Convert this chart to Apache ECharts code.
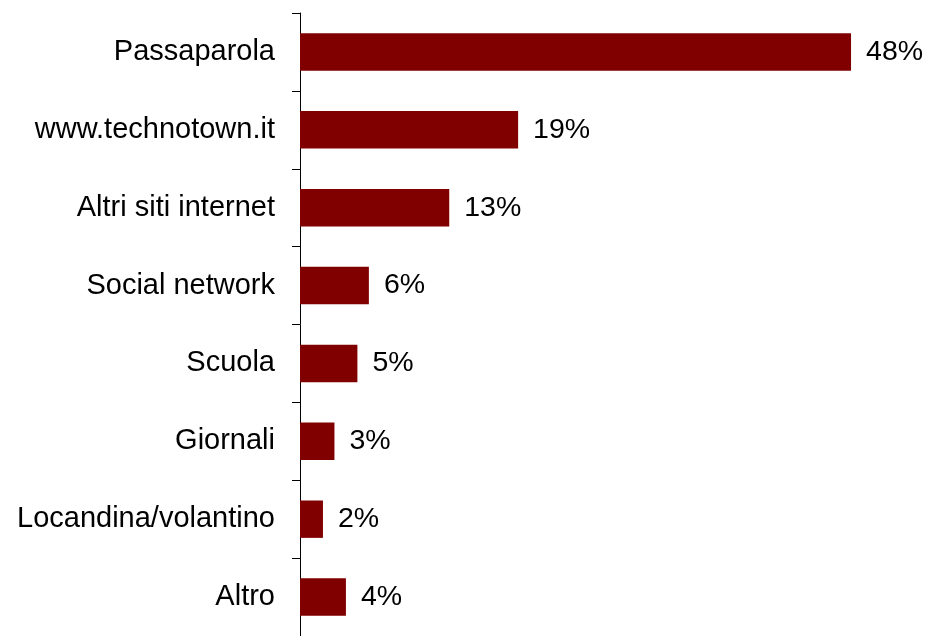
<!DOCTYPE html>
<html>
<head>
<meta charset="utf-8">
<script src="https://cdn.jsdelivr.net/npm/echarts@6/dist/echarts.min.js"></script>
<style>
html,body{margin:0;padding:0;background:#fff;}
#chart{width:926px;height:636px;}
</style>
</head>
<body>
<div id="chart"></div>
<script>
// Sources, top to bottom as shown
const categories = ['Passaparola', 'www.technotown.it', 'Altri siti internet', 'Social network', 'Scuola', 'Giornali', 'Locandina/volantino', 'Altro'];
const shares = [48, 19, 13, 6, 5, 3, 2, 4];

const chart = echarts.init(document.getElementById('chart'), null, { renderer: 'canvas' });
const font = 'Arial, "Liberation Sans", sans-serif';

chart.setOption({
  animation: false,
  grid: { left: 300, top: 13, bottom: 0, right: 52, containLabel: false },
  xAxis: {
    type: 'value',
    min: 0,
    max: 50,
    show: false
  },
  yAxis: {
    type: 'category',
    inverse: true,
    data: categories,
    axisLine: { show: true, lineStyle: { color: '#000', width: 1 } },
    axisTick: { show: true, length: 8, lineStyle: { color: '#000' } },
    axisLabel: { color: '#000', fontFamily: font, fontSize: 29, margin: 25 },
    splitLine: { show: false }
  },
  series: [{
    type: 'bar',
    data: shares,
    barWidth: '48%',
    itemStyle: { color: '#800000' },
    label: {
      show: true,
      position: 'right',
      distance: 15,
      formatter: p => p.value + '%',
      color: '#000',
      fontFamily: font,
      fontSize: 28.5
    }
  }]
});
</script>
</body>
</html>
